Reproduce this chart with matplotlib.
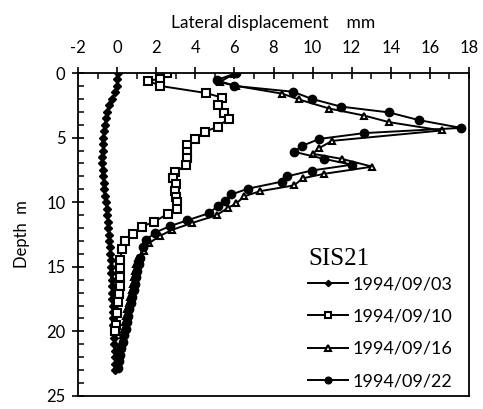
#Inclinometer profile SIS21 - lateral displacement vs depth
import matplotlib
matplotlib.use("Agg")
import matplotlib.pyplot as plt
from matplotlib.ticker import MultipleLocator

plt.rcParams['axes.unicode_minus'] = False

#1994/09/03 (small diamonds, close to zero)
depth_0903 = [0, 0.5, 1, 1.5, 2, 2.5, 3, 3.5, 4, 4.5, 5, 5.5, 6, 6.5, 7, 7.5, 8, 8.5,
              9, 9.5, 10, 10.5, 11, 11.5, 12, 12.5, 13, 13.5, 14, 14.5, 15, 15.5,
              16, 16.5, 17, 17.5, 18, 18.5, 19, 19.5, 20, 20.5, 21, 21.5, 22, 22.5, 23]
disp_0903 = [0.05, 0.0, 0.0, -0.1, -0.25, -0.4, -0.5, -0.58, -0.63, -0.68, -0.7, -0.72,
             -0.73, -0.75, -0.75, -0.73, -0.7, -0.68, -0.65, -0.6, -0.57, -0.53, -0.5,
             -0.47, -0.45, -0.42, -0.4, -0.38, -0.35, -0.33, -0.3, -0.3, -0.28, -0.27,
             -0.25, -0.25, -0.23, -0.22, -0.2, -0.2, -0.18, -0.17, -0.15, -0.13, -0.12,
             -0.1, -0.1]

#1994/09/10 (open squares)
depth_0910 = [0.0, 0.45, 0.6, 1.0, 1.55, 1.9, 2.45, 3.1, 3.55, 4.15, 4.55, 5.1, 5.6,
              6.15, 6.6, 7.15, 7.7, 8.1, 8.6, 9.15, 9.6, 10.0, 10.5, 10.9, 11.5, 11.9,
              12.45, 13.0, 13.6, 14.5, 15.1, 15.8, 16.5, 17.1, 17.7, 18.6, 19.5, 20.0]
disp_0910 = [2.55, 2.2, 1.6, 2.2, 4.55, 5.35, 5.15, 5.45, 5.7, 5.15, 4.5, 4.0, 3.55,
             3.55, 3.55, 3.5, 2.95, 2.85, 3.0, 2.95, 3.0, 3.05, 3.05, 2.6, 1.9, 1.25,
             0.8, 0.4, 0.25, 0.15, 0.15, 0.15, 0.15, 0.1, 0.05, 0.0, -0.05, -0.1]

#1994/09/16 (open triangles)
depth_0916 = [0.05, 0.7, 1.0, 1.6, 2.05, 2.75, 3.3, 3.8, 4.45, 5.25, 5.8, 6.25, 6.65,
              7.25, 7.8, 8.15, 8.7, 9.15, 9.55, 10.1, 10.45, 11.0, 11.6, 12.15, 12.6,
              13.15, 13.75, 14.3, 14.8, 15.3, 15.8, 16.3, 16.8, 17.3, 17.8, 18.3, 18.8,
              19.3, 19.8, 20.3, 20.8, 21.3, 21.8, 22.3, 22.8]
disp_0916 = [6.0, 5.25, 6.1, 8.45, 9.3, 10.85, 12.65, 13.9, 16.6, 11.0, 10.35, 10.0,
             11.5, 13.05, 10.6, 9.5, 9.05, 7.3, 6.5, 6.1, 5.65, 5.1, 3.85, 2.8, 2.2,
             1.65, 1.4, 1.05, 0.98, 0.9, 0.85, 0.8, 0.75, 0.68, 0.6, 0.52, 0.47, 0.42,
             0.37, 0.3, 0.25, 0.18, 0.12, 0.07, 0.02]

#1994/09/22 (filled circles)
depth_0922 = [0.0, 0.55, 1.0, 1.45, 2.0, 2.6, 3.05, 3.65, 4.25, 4.65, 5.1, 5.65, 6.1,
              6.65, 7.1, 7.55, 8.0, 8.4, 8.95, 9.4, 9.9, 10.3, 10.85, 11.4, 11.85,
              12.35, 12.9, 13.5, 14.3, 14.8, 15.3, 15.8, 16.3, 16.8, 17.3, 17.8, 18.3,
              18.8, 19.3, 19.8, 20.3, 20.8, 21.3, 21.8, 22.3, 22.8]
disp_0922 = [6.1, 5.1, 6.0, 9.0, 9.95, 11.45, 13.9, 15.45, 17.6, 12.65, 10.35, 9.45,
             9.05, 10.6, 12.0, 9.95, 8.7, 8.45, 6.7, 5.85, 5.5, 5.15, 4.7, 3.6, 2.7,
             1.95, 1.5, 1.3, 1.15, 1.1, 1.0, 0.95, 0.9, 0.85, 0.75, 0.7, 0.6, 0.55,
             0.5, 0.45, 0.35, 0.3, 0.2, 0.15, 0.1, 0.05]

LABEL_FONT = ["Lato", "DejaVu Sans"]

fig = plt.figure(figsize=(4.83, 4.09), dpi=100)
ax = fig.add_axes([78/483, 1 - 396/409, (469 - 78)/483, (396 - 73)/409])

ax.plot(disp_0903, depth_0903, '-', color='black', lw=1.4, marker='D',
        ms=4, mfc='black', label='1994/09/03')
ax.plot(disp_0910, depth_0910, '-', color='black', lw=1.4, marker='s',
        ms=6, mfc='white', mew=1.5, label='1994/09/10')
ax.plot(disp_0916, depth_0916, '-', color='black', lw=1.4, marker='^',
        ms=5, mfc='white', mew=1.5, label='1994/09/16')
ax.plot(disp_0922, depth_0922, '-', color='black', lw=1.4, marker='o',
        ms=6, mfc='black', label='1994/09/22')

ax.set_xlim(-2, 18)
ax.set_ylim(25, 0)

#x axis on top
ax.xaxis.tick_top()
ax.xaxis.set_label_position('top')
ax.xaxis.set_major_locator(MultipleLocator(2))
ax.xaxis.set_minor_locator(MultipleLocator(1))
ax.yaxis.set_major_locator(MultipleLocator(5))
ax.yaxis.set_minor_locator(MultipleLocator(1))
ax.tick_params(which='major', direction='inout', length=8, width=1.2, labelsize=12, pad=8)
ax.tick_params(which='minor', direction='in', length=4, width=1.1)
ax.tick_params(axis='y', which='major', pad=5)
for lbl in ax.get_xticklabels() + ax.get_yticklabels():
    lbl.set_family(LABEL_FONT)

for sp in ax.spines.values():
    sp.set_linewidth(1.3)

ax.set_xlabel('Lateral displacement    mm', family=LABEL_FONT, fontsize=12.5, labelpad=9)
ax.set_ylabel('Depth  m', family=LABEL_FONT, fontsize=12, labelpad=12)

#well name, then the legend without frame
ax.text(0.588, 0.424, 'SIS21', transform=ax.transAxes, ha='left', va='center',
        family=["Liberation Serif", "DejaVu Serif"], fontsize=18)
ax.legend(loc='upper left', bbox_to_anchor=(0.588, 0.37), frameon=False,
          handlelength=2.2, handletextpad=0.25, labelspacing=0.9,
          borderpad=0, borderaxespad=0, markerscale=0.8,
          prop={'family': LABEL_FONT, 'size': 13})

plt.savefig('out.png', dpi=100)
